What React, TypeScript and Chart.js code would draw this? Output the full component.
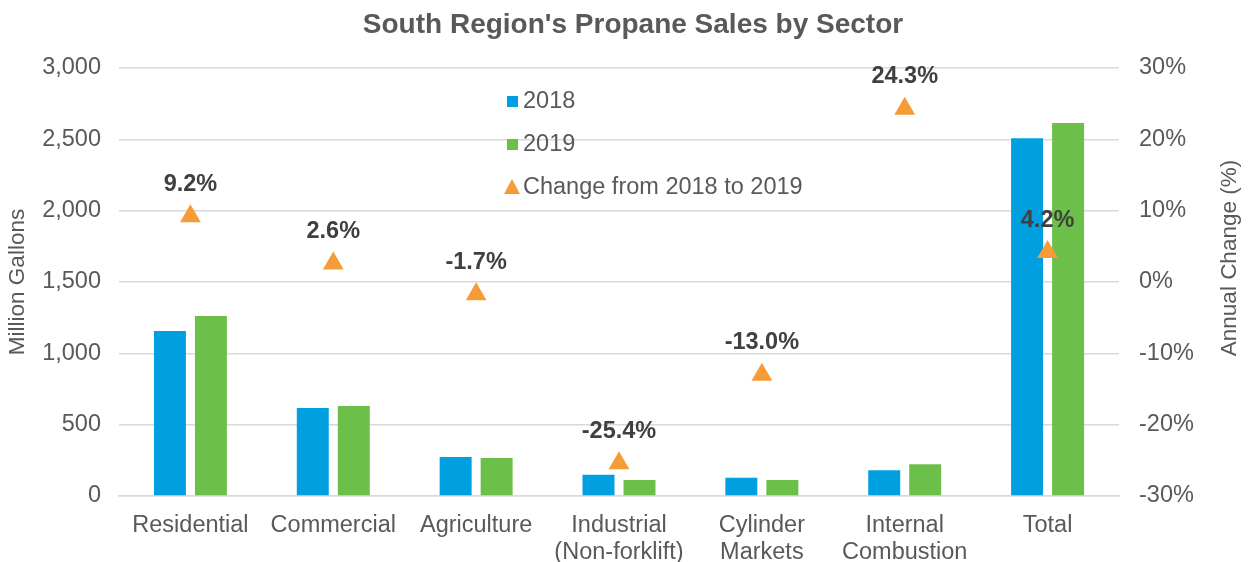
import React, { useEffect, useRef } from "react";
import { Chart, registerables } from "chart.js";

Chart.register(...registerables);

const categories: (string | string[])[] = [
  "Residential",
  "Commercial",
  "Agriculture",
  ["Industrial", "(Non-forklift)"],
  ["Cylinder", "Markets"],
  ["Internal", "Combustion"],
  "Total",
];
const sales2018 = [1157, 617, 273, 149, 128, 180, 2507];
const sales2019 = [1262, 631, 266, 112, 112, 222, 2614];
const changePct = [9.2, 2.6, -1.7, -25.4, -13.0, 24.3, 4.2];

const leftTicks = [0, 500, 1000, 1500, 2000, 2500, 3000];
const rightTicks = [-30, -20, -10, 0, 10, 20, 30];

const BLUE = "#00A0E0";
const GREEN = "#6CC04A";
const ORANGE = "#F59B37";
const TEXT = "#595959";
const LABEL = "#404040";
const FONT = "'Liberation Sans', Arial, sans-serif";
const FS = 23.5;

const overlayPlugin = {
  id: "overlay",
  afterDatasetsDraw(chart: any) {
    const ctx = chart.ctx;
    ctx.save();
    // title
    ctx.fillStyle = TEXT;
    ctx.font = `bold 28px ${FONT}`;
    ctx.textAlign = "center";
    ctx.textBaseline = "middle";
    ctx.fillText("South Region's Propane Sales by Sector", 633, 25);

    // right axis title (reads bottom to top)
    ctx.save();
    ctx.font = `${FS - 1}px ${FONT}`;
    ctx.translate(1230, 258);
    ctx.rotate(-Math.PI / 2);
    ctx.fillText("Annual Change (%)", 0, 0);
    ctx.restore();

    // data labels
    const meta = chart.getDatasetMeta(2);
    ctx.font = `bold ${FS}px ${FONT}`;
    ctx.fillStyle = LABEL;
    meta.data.forEach((pt: any, i: number) => {
      ctx.fillText(changePct[i].toFixed(1) + "%", pt.x, pt.y - 32);
    });

    // legend
    ctx.font = `${FS}px ${FONT}`;
    ctx.textAlign = "left";
    ctx.fillStyle = BLUE;
    ctx.fillRect(507, 96, 11, 11);
    ctx.fillStyle = GREEN;
    ctx.fillRect(507, 139, 11, 11);
    ctx.fillStyle = ORANGE;
    ctx.beginPath();
    ctx.moveTo(512, 179);
    ctx.lineTo(520, 194);
    ctx.lineTo(504, 194);
    ctx.closePath();
    ctx.fill();
    ctx.fillStyle = TEXT;
    ctx.fillText("2018", 523, 102);
    ctx.fillText("2019", 523, 145);
    ctx.fillText("Change from 2018 to 2019", 523, 188);
    ctx.restore();
  },
};

export default function App() {
  const ref = useRef<HTMLCanvasElement>(null);
  useEffect(() => {
    document.body.style.margin = "0";
    const chart = new Chart(ref.current!, {
      type: "bar",
      data: {
        labels: categories,
        datasets: [
          {
            label: "2018",
            data: sales2018,
            backgroundColor: BLUE,
            yAxisID: "y",
            order: 2,
            categoryPercentage: 0.574,
            barPercentage: 0.78,
          },
          {
            label: "2019",
            data: sales2019,
            backgroundColor: GREEN,
            yAxisID: "y",
            order: 2,
            categoryPercentage: 0.574,
            barPercentage: 0.78,
          },
          {
            type: "line",
            label: "Change from 2018 to 2019",
            data: changePct,
            yAxisID: "y1",
            showLine: false,
            pointStyle: "triangle",
            pointRadius: 12,
            pointHoverRadius: 12,
            backgroundColor: ORANGE,
            borderColor: ORANGE,
            borderWidth: 0,
            order: 1,
          } as any,
        ],
      },
      options: {
        animation: false,
        responsive: false,
        maintainAspectRatio: false,
        layout: { padding: { top: 68, bottom: 0, left: 0, right: 0 } },
        plugins: {
          legend: { display: false },
          title: { display: false },
          tooltip: { enabled: false },
        },
        scales: {
          x: {
            grid: { display: false, drawTicks: false },
            border: { display: true, color: "#D9D9D9", width: 1.5 },
            ticks: {
              color: TEXT,
              font: { family: FONT, size: FS, lineHeight: 1.15 },
              padding: 16,
              maxRotation: 0,
              autoSkip: false,
            },
            afterFit: (s: any) => {
              s.height = 66;
            },
          },
          y: {
            position: "left",
            min: 0,
            max: 3000,
            afterBuildTicks: (s: any) => {
              s.ticks = leftTicks.map((v) => ({ value: v }));
            },
            ticks: {
              color: TEXT,
              font: { family: FONT, size: FS },
              padding: 18,
              callback: (v: any) => Number(v).toLocaleString("en-US"),
            },
            grid: { color: "#D9D9D9", lineWidth: 1.5, drawTicks: false },
            border: { display: false },
            title: {
              display: true,
              text: "Million Gallons",
              color: TEXT,
              font: { family: FONT, size: FS - 1 },
              padding: 4,
            },
            afterFit: (s: any) => {
              s.width = 119;
            },
          },
          y1: {
            position: "right",
            min: -30,
            max: 30,
            afterBuildTicks: (s: any) => {
              s.ticks = rightTicks.map((v) => ({ value: v }));
            },
            ticks: {
              color: TEXT,
              font: { family: FONT, size: FS },
              padding: 20,
              callback: (v: any) => v + "%",
            },
            grid: { display: false, drawTicks: false },
            border: { display: false },
            title: { display: false },
            afterFit: (s: any) => {
              s.width = 130;
            },
          },
        },
      },
      plugins: [overlayPlugin],
    } as any);
    return () => chart.destroy();
  }, []);
  return (
    <div style={{ width: 1249, height: 562 }}>
      <canvas ref={ref} width={1249} height={562} style={{ display: "block" }} />
    </div>
  );
}
